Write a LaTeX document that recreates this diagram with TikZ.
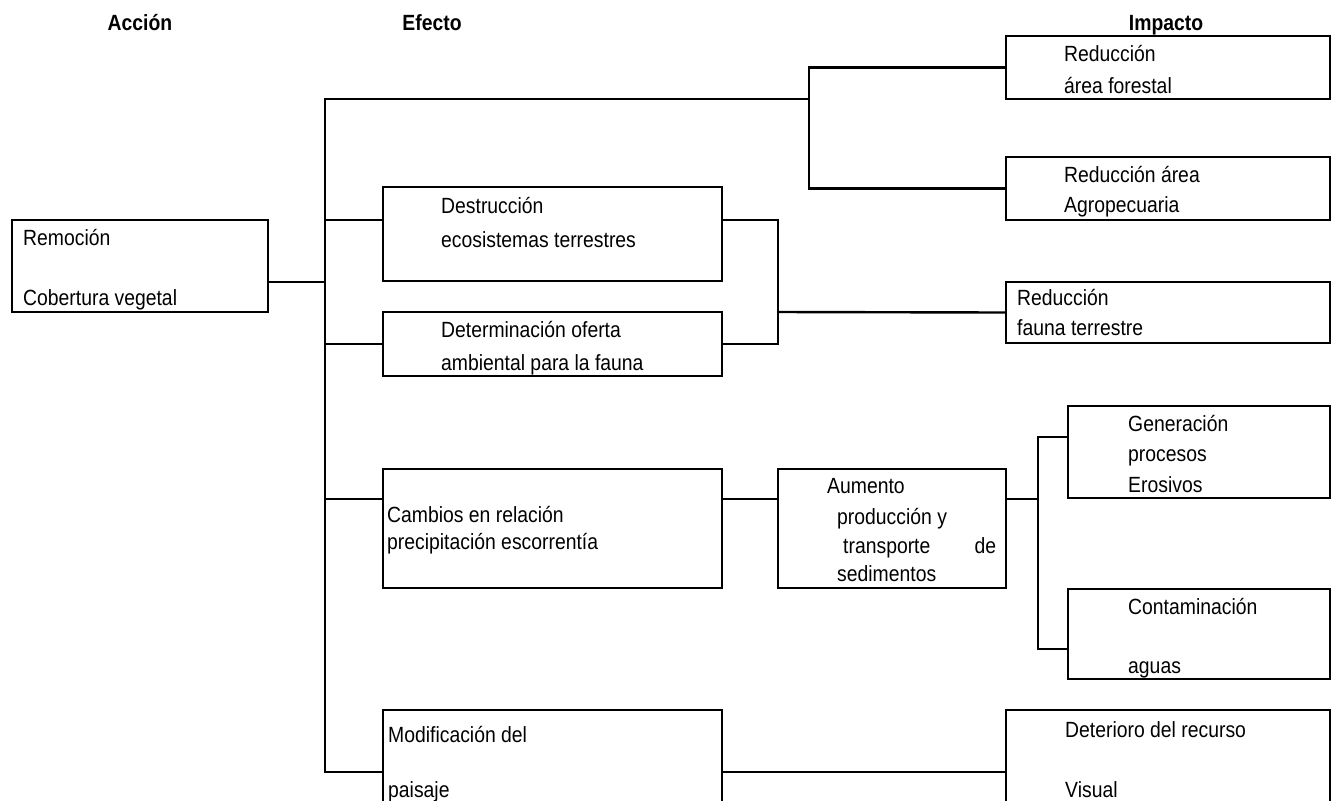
\documentclass[tikz,border=0pt]{standalone}
\usepackage{fontspec}
\setmainfont{Liberation Sans}[FakeStretch=0.88]
\usetikzlibrary{fit}

\begin{document}
\begin{tikzpicture}[x=0.75pt, y=-0.75pt, line width=1.8pt,
    box/.style={draw, inner sep=0pt, fit={#1}},
    txt/.style={inner sep=0pt, anchor=base west, align=left, font=\fontsize{16.5}{22.5}\selectfont},
    head/.style={inner sep=0pt, anchor=base, font=\fontsize{16.5}{22.5}\selectfont\bfseries}]
    \useasboundingbox (0,0) rectangle (1333,800);
    \clip (0,0) rectangle (1333,800);

    \node[head] (haccion) at (140,30) {Acción};
    \node[head] (hefecto) at (432,30) {Efecto};
    \node[head] (himpacto) at (1166,30) {Impacto};

    % accion
    \node[box={(12,220) (268,312)}] (remocion) {};
    \node[txt] (tremocion) at (22,305) {Remoción\\[22.5pt]Cobertura vegetal};

    % efectos
    \node[box={(383,187) (722,281)}] (destruccion) {};
    \node[txt] (tdestruccion) at (440,247) {Destrucción\\[3pt]ecosistemas terrestres};
    \node[box={(383,312) (722,376)}] (oferta) {};
    \node[txt] (toferta) at (440,370) {Determinación oferta\\[2.25pt]ambiental para la fauna};
    \node[box={(383,469) (722,588)}] (cambios) {};
    \node[txt] (tcambios) at (386,549) {Cambios en relación\\[-2.25pt]precipitación escorrentía};
    \node[box={(778,469) (1006,588)}] (aumento) {};
    \node[txt] (taumento) at (826,581) {Aumento\\[0.75pt]\hspace*{7.5pt}producción y\\[-0.75pt]\hspace*{12pt}\makebox[114.75pt][l]{transporte\hfill de}\\[-1.5pt]\hspace*{7.5pt}sedimentos};
    \node[box={(383,710) (722,830)}] (paisaje) {};
    \node[txt] (tpaisaje) at (387,797) {Modificación del\\[18.75pt]paisaje};

    % impactos
    \node[box={(1006,36) (1330,99)}] (forestal) {};
    \node[txt] (tforestal) at (1063,93) {Reducción\\[1.5pt]área forestal};
    \node[box={(1006,157) (1330,220)}] (agro) {};
    \node[txt] (tagro) at (1063,212) {Reducción área\\Agropecuaria};
    \node[box={(1006,282) (1330,343)}] (fauna) {};
    \node[txt] (tfauna) at (1016,335) {Reducción\\fauna terrestre};
    \node[box={(1068,406) (1330,498)}] (erosion) {};
    \node[txt] (terosion) at (1127,492) {Generación\\procesos\\[0.75pt]Erosivos};
    \node[box={(1068,589) (1330,679)}] (aguas) {};
    \node[txt] (taguas) at (1127,673) {Contaminación\\[21.75pt]aguas};
    \node[box={(1006,710) (1330,830)}] (visual) {};
    \node[txt] (tvisual) at (1064,797) {Deterioro del recurso\\[22.5pt]Visual};

    % conectores
    \coordinate (jtop) at (325,99);
    \coordinate (jbot) at (325,772);
    \coordinate (fork1) at (809,99);
    \coordinate (fork2) at (778,312);
    \coordinate (fork3) at (1038,499);

    \draw (fork1) -- (jtop) -- (jbot) -- (paisaje.west |- jbot);
    \draw (remocion.east |- 0,282) -- (jtop |- 0,282);
    \draw (forestal.west) -| (fork1) |- (agro.west);
    \draw (jtop |- 0,220) -- (destruccion.west |- 0,220);
    \draw (jtop |- oferta.west) -- (oferta.west);
    \draw (destruccion.east |- 0,220) -| (fork2) |- (oferta.east);
    \draw (fork2) -- (fauna.west);
    \draw (jtop |- fork3) -- (cambios.west |- fork3);
    \draw (cambios.east |- fork3) -- (aumento.west |- fork3);
    \draw (aumento.east |- fork3) -- (fork3);
    \draw (erosion.west |- 0,437) -| (fork3) |- (aguas.west |- 0,649);
    \draw (paisaje.east |- jbot) -- (visual.west |- jbot);
\end{tikzpicture}
\end{document}
